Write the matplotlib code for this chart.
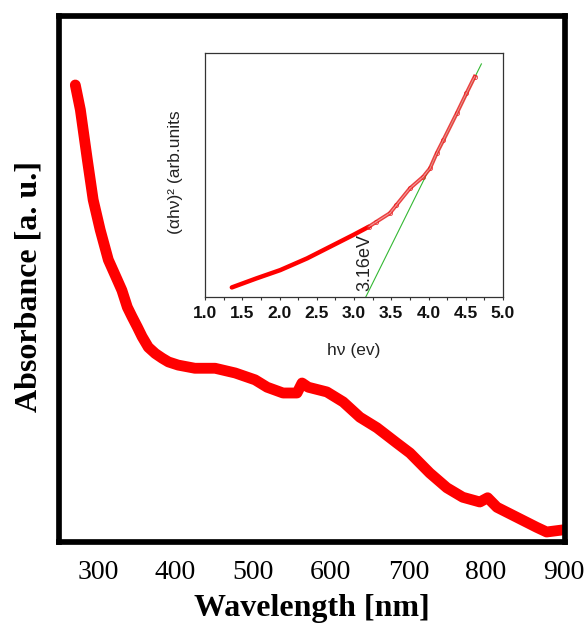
import matplotlib
matplotlib.use("Agg")
import matplotlib.pyplot as plt
from matplotlib.ticker import MultipleLocator

# ---- main spectrum data ----
wavelength = [271, 277.5, 286.5, 294, 303, 313.5, 325, 331, 338, 344, 351, 357, 365,
              374, 383, 391, 403.5, 425, 451, 477, 502.5, 518, 538.5, 556.5, 563,
              571, 595, 616, 637.5, 659.5, 685, 702, 727.5, 749.5, 770, 792, 802,
              814, 839.5, 865, 878, 899]
absorbance = [0.868, 0.821, 0.726, 0.650, 0.593, 0.536, 0.498, 0.478, 0.446, 0.428,
              0.408, 0.390, 0.370, 0.358, 0.349, 0.342, 0.336, 0.330, 0.330, 0.321,
              0.308, 0.294, 0.283, 0.283, 0.302, 0.294, 0.285, 0.266, 0.237, 0.217,
              0.188, 0.169, 0.131, 0.103, 0.085, 0.076, 0.084, 0.066, 0.047, 0.028,
              0.019, 0.023]
main_xticks = [300, 400, 500, 600, 700, 800, 900]

# ---- inset Tauc plot data ----
hv_low = [1.36, 1.69, 2.01, 2.37, 2.68, 2.99, 3.20]
tauc_low = [0.038, 0.075, 0.109, 0.157, 0.205, 0.253, 0.287]
hv_high = [3.20, 3.30, 3.48, 3.57, 3.75, 3.93, 4.02, 4.11, 4.20, 4.38, 4.51, 4.62]
tauc_high = [0.287, 0.307, 0.342, 0.376, 0.444, 0.492, 0.526, 0.588, 0.642, 0.752, 0.834, 0.902]
hv_fit = [3.16, 4.71]
tauc_fit = [0.0, 0.954]
band_gap_label = "3.16eV"
inset_xticks = [1.0, 1.5, 2.0, 2.5, 3.0, 3.5, 4.0, 4.5, 5.0]

W, H = 586, 626
fig = plt.figure(figsize=(W / 100, H / 100), dpi=100)

# ---------------- main axes ----------------
ax = fig.add_axes([59 / W, 1 - 542 / H, (564.5 - 59) / W, (542 - 15.5) / H])
ax.plot(wavelength, absorbance, color="#ff0000", lw=7.8,
        solid_capstyle="round", solid_joinstyle="round")
ax.set_xlim(250, 901)
ax.set_ylim(0, 1)
for s in ax.spines.values():
    s.set_linewidth(4.1)
    s.set_color("black")
ax.set_xticks(main_xticks)
ax.set_xticklabels([str(v) for v in main_xticks], family="Liberation Serif", fontsize=20)
ax.set_yticks([])
ax.tick_params(axis="x", length=0, pad=13)
ax.set_xlabel("Wavelength [nm]", family="Liberation Serif", fontsize=23, fontweight="bold")
ax.xaxis.set_label_coords(0.5, -0.098)
ax.set_ylabel("Absorbance [a. u.]", family="Liberation Serif", fontsize=23, fontweight="bold")
ax.yaxis.set_label_coords(-0.030, 0.486)

# ---------------- inset axes ----------------
ins = fig.add_axes([205 / W, 1 - 296.7 / H, 298 / W, 244 / H])
ins.plot(hv_fit, tauc_fit, color="#33b833", lw=0.8, zorder=2)
ins.plot(hv_low, tauc_low, color="#ff0000", lw=3.2, solid_capstyle="round", zorder=3)
ins.plot(hv_high, tauc_high, color="#e82020", lw=2.8, alpha=0.85, zorder=3,
         marker="o", ms=3, mfc="none", mec="#e82020", mew=0.6)
ins.plot(hv_high, tauc_high, color="white", lw=0.7, alpha=0.5, zorder=4)
ins.set_xlim(1.0, 5.0)
ins.set_ylim(0, 1)
ins.set_yticks([])
ins.set_xticks(inset_xticks)
ins.set_xticklabels([f"{v:.1f}" for v in inset_xticks], family="Liberation Sans",
                    fontsize=12.5, fontweight="bold", color="#111111")
ins.xaxis.set_minor_locator(MultipleLocator(0.25))
ins.tick_params(axis="x", which="both", direction="out", length=2.5, width=0.8,
                pad=4, color="#333333")
for s in ins.spines.values():
    s.set_linewidth(0.9)
    s.set_color("#333333")
ins.set_xlabel("hν (ev)", family="Liberation Sans", fontsize=12.5, color="#222222")
ins.xaxis.set_label_coords(0.5, -0.19)
ins.set_ylabel("(αhν)² (arb.units", family="Liberation Sans", fontsize=12.5, color="#222222")
ins.yaxis.set_label_coords(-0.075, 0.511)
ins.text(3.15, 0.025, band_gap_label, rotation=90, ha="center", va="bottom",
         family="Liberation Sans", fontsize=13, color="#222222")

fig.savefig("out.png", dpi=100)
